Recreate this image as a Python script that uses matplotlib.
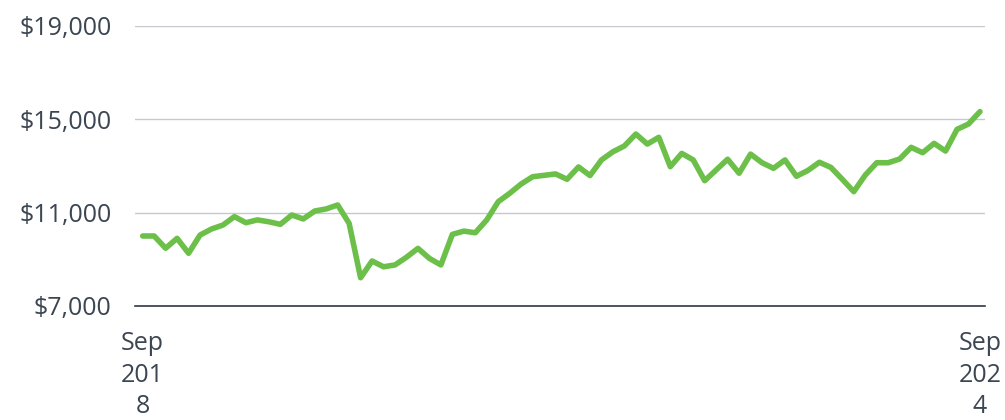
import numpy as np
import matplotlib
matplotlib.use("Agg")
import matplotlib.pyplot as plt

# growth of $10,000, monthly, Sep 2018 -> Sep 2024
values = [10000, 10000, 9475, 9900, 9260, 10040, 10300, 10470, 10830, 10570,
          10690, 10610, 10500, 10900, 10730, 11070, 11160, 11330, 10540, 8210,
          8930, 8680, 8760, 9090, 9470, 9040, 8760, 10070, 10210, 10140,
          10690, 11470, 11830, 12230, 12540, 12600, 12660, 12430, 12960, 12590,
          13260, 13610, 13860, 14370, 13940, 14230, 12970, 13540, 13260, 12370,
          12830, 13290, 12690, 13510, 13140, 12900, 13260, 12560, 12810, 13160,
          12940, 12430, 11900, 12610, 13140, 13140, 13300, 13800, 13570, 13970,
          13640, 14570, 14800, 15330]
x_labels = ["Sep\n201\n8", "Sep\n202\n4"]
y_ticks = [7000, 11000, 15000, 19000]
y_labels = ["$7,000", "$11,000", "$15,000", "$19,000"]

text_col = "#3b4652"
plt.rcParams['font.family'] = ['Open Sans', 'DejaVu Sans']

fig = plt.figure(figsize=(10.05, 4.2), dpi=100)
ax = fig.add_axes([135/1005, 1 - 306/420, 850/1005, 280/420])

x = np.arange(len(values))
ax.plot(x, values, color="#6cc04a", lw=4.0, solid_joinstyle="round",
        solid_capstyle="round", zorder=3)

ax.set_ylim(7000, 19000)
ax.set_xlim(-0.67, len(values) - 1 + 0.44)
ax.set_yticks(y_ticks, y_labels)
ax.set_xticks([0, len(values) - 1], x_labels)
ax.grid(axis="y", color="#c5c9ce", lw=1)
ax.set_axisbelow(True)

for s in ["top", "right", "left"]:
    ax.spines[s].set_visible(False)
ax.spines["bottom"].set_color("#2f3a45")
ax.spines["bottom"].set_linewidth(1.2)

ax.tick_params(axis="y", length=0, pad=17, labelsize=18, labelcolor=text_col)
ax.tick_params(axis="x", length=0, pad=18, labelsize=18, labelcolor=text_col)
for lab in ax.get_xticklabels():
    lab.set_linespacing(1.35)

# clipped label at top right
fig.text(965/1005, 1.0 + 19/420, "2024", fontsize=18, color=text_col,
         ha="left", va="bottom")

fig.savefig("out.png", dpi=100)
